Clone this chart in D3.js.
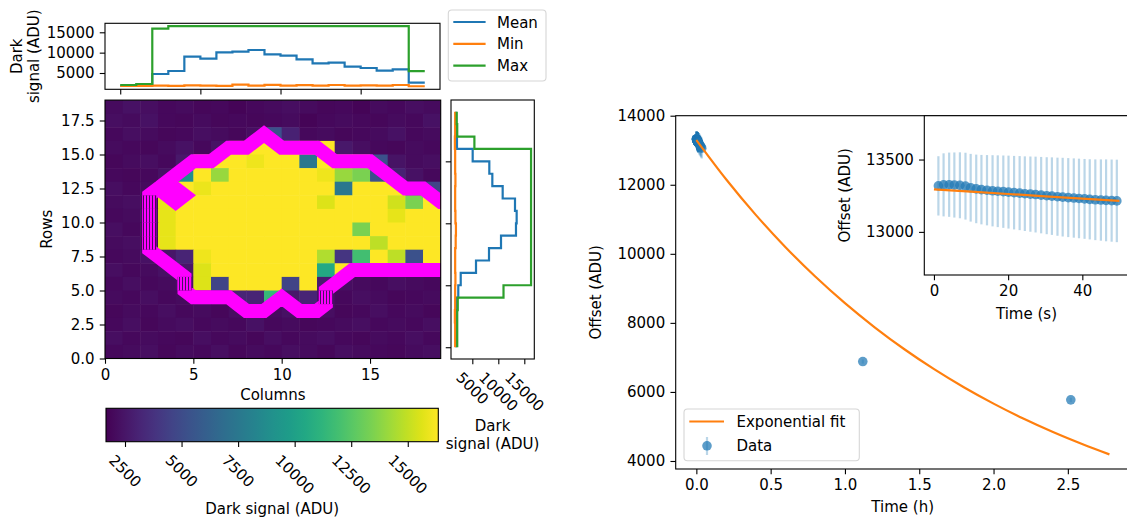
<!DOCTYPE html>
<html lang="en">
<head>
<meta charset="UTF-8">
<title>Dark signal map and offset drift</title>
<script src="https://d3js.org/d3.v7.min.js"></script>
<style>
  body { margin: 0; background: #fff; }
  svg { display: block; }
</style>
</head>
<body>
<svg id="chart" width="1127" height="520"></svg>
<script>
// ---------- data ----------
// dark signal per pixel, top row (18) first, columns 0..18
const heatmap = [
  [2100,2300,2200,2000,2100,1900,2000,1800,2000,2100,2200,2100,1900,2000,1800,2100,2000,2200,2100],
  [2200,2100,2300,2000,1900,2100,1900,2000,1900,2000,2100,1800,2000,2100,2000,1900,2100,2000,2300],
  [2000,2200,2100,1900,2000,2200,2100,1900,2200,5300,3000,2000,2100,1900,2000,2100,2300,2000,2100],
  [2100,2000,1900,2100,2300,2000,2400,16300,16300,16300,16300,16300,16300,2600,2200,2000,1900,2100,2000],
  [1900,2100,2200,2000,2600,16300,16300,16300,16000,16300,16300,7500,16300,16300,16300,5300,2400,2100,2200],
  [2000,1900,2000,2300,9000,16300,14100,16300,16300,16300,16300,16300,16000,14100,13400,5300,3000,2300,2000],
  [2200,2000,2100,2200,16300,15900,16300,16300,16300,16300,16300,16300,16300,7500,16300,16300,16300,3000,4600],
  [2100,2200,2000,15800,16300,16300,16300,16300,16300,16300,16300,16300,15600,16300,16300,16300,15300,13400,16300],
  [2000,2100,2200,15800,16300,16300,16300,16300,16300,16300,16300,16300,16300,16300,16300,16300,15800,16300,16300],
  [2200,2000,2100,15800,16300,16300,16300,16300,16300,16300,16300,16300,16300,16300,13400,16300,16300,16300,16300],
  [2100,2200,2000,15800,16300,16300,16300,16300,16300,16300,16300,16300,16300,16300,16300,14900,16300,16300,16300],
  [2000,2100,2300,2500,3100,16000,16300,16300,16300,16300,16300,16300,14600,3900,11900,16300,14900,5300,16300],
  [2200,2000,2100,2300,2500,15600,16300,16300,16300,16300,16300,16300,10500,16300,4000,2600,2400,2300,2200],
  [2000,2200,2000,2100,2300,15600,4600,16300,16300,16300,4600,16300,2800,2200,2100,2000,2200,2100,2000],
  [2100,2000,2200,2000,2100,2300,2200,3100,3100,11500,2600,3100,2300,2000,2200,2100,1900,2000,2100],
  [1900,2100,2000,2200,2000,2100,1900,2200,2000,2100,2300,2000,2200,1900,2000,2200,2000,2100,1900],
  [2000,2200,1900,2100,2200,2000,2100,2000,2300,2000,2100,1900,2000,2100,2200,2000,2100,2000,2200],
  [2200,2000,2100,2000,1900,2200,2000,2100,1900,2200,2000,2100,2200,2000,1900,2100,2000,2200,2000],
  [2000,2100,2200,1900,2100,2000,2200,1900,2100,2000,2200,2100,1900,2200,2100,2000,1900,2100,2200]
];
const nRows = 19;
const vmin = 1660, vmax = 16350;

// masked region (per column: lowest and highest row inside), runs past the shown area
const maskLo = [null, null, null, 8, 7, 5, 5, 5, 4, 4, 5, 4, 4, 6, 7, 7, 7, 7, 7, 7, 7];
const maskHi = [null, null, null, 12, 13, 14, 14, 15, 15, 16, 15, 15, 15, 14, 14, 14, 13, 12, 12, 11, 11];
const maskHoles = [[4, 12]];

// column profiles (top panel)
const colMean = [1900, 2000, 4750, 5490, 9020, 8530, 10080, 10250, 10650, 9590, 9260, 8360, 7380, 7540, 6560, 6230, 5570, 5900, 2620];
const colMin  = [1800, 1850, 1900, 1850, 1950, 1900, 1850, 2150, 1900, 2100, 1900, 2000, 1900, 2050, 1900, 1950, 1900, 2050, 1750];
const colMax  = [2050, 2300, 15900, 16500, 16500, 16500, 16500, 16500, 16500, 16500, 16500, 16500, 16500, 16500, 16500, 16500, 16500, 16500, 5450];

// row profiles (right panel), row 0 first
const rowMean = [1900, 1950, 1900, 2000, 2300, 2770, 5710, 8210, 10520, 13400, 13530, 13210, 10840, 8850, 8270, 5070, 2050, 1950, 1900];
const rowMin  = [1700, 1700, 1650, 1700, 1700, 1750, 1700, 1700, 1800, 1850, 1750, 1700, 1700, 1750, 1700, 1700, 1650, 1700, 1700];
const rowMax  = [2100, 2100, 2100, 2200, 11000, 16300, 16300, 16300, 16300, 16300, 16300, 16300, 16300, 16300, 16300, 16300, 5400, 2100, 2000];

const cbarTicks = [2500, 5000, 7500, 10000, 12500, 15000];

// offset vs time, first 50 s (inset)
const inSec = [1.2, 2.6, 4.1, 5.5, 7.0, 8.5, 9.9, 11.4, 12.8, 14.3, 15.8, 17.2, 18.7, 20.1, 21.6, 23.1, 24.5,
               26.0, 27.4, 28.9, 30.4, 31.8, 33.3, 34.7, 36.2, 37.7, 39.1, 40.6, 42.0, 43.5, 45.0, 46.4, 47.9, 49.3];
const inVal = [13318, 13325, 13326, 13324, 13322, 13316, 13305, 13297, 13292, 13288, 13284, 13281, 13278, 13275, 13271, 13268, 13264,
               13261, 13258, 13254, 13250, 13247, 13243, 13240, 13237, 13234, 13231, 13228, 13225, 13222, 13220, 13218, 13216, 13214];
const inErr = [205, 218, 222, 225, 228, 231, 234, 237, 240, 243, 246, 248, 250, 252, 254, 256, 258,
               260, 262, 264, 266, 268, 270, 272, 273, 274, 275, 276, 277, 279, 281, 283, 284, 285];
// later samples only in the main panel
const tailSec = [70, 85, 100, 115, 130];
const tailVal = [13180, 13150, 13120, 13090, 13060];
const tailErr = [300, 300, 300, 300, 300];
const lateHours = [1.12, 2.52];
const lateVal = [6880, 5770];
const lateErr = [60, 60];

// exponential fit as drawn
const fitHours = [0, 0.2, 0.4, 0.6, 0.8, 1.0, 1.2, 1.4, 1.6, 1.8, 2.0, 2.2, 2.4, 2.6, 2.78];
const fitVal = [13297, 12161, 11128, 10192, 9342, 8571, 7872, 7236, 6659, 6136, 5662, 5230, 4839, 4485, 4191];
const inFitSec = [0, 10, 20, 30, 40, 50];
const inFitVal = [13294, 13278, 13262, 13246, 13230, 13214];

// ---------- drawing ----------
const svg = d3.select("#chart")
  .attr("font-family", "DejaVu Sans, sans-serif")
  .attr("font-size", 15);
const FS = 15, SW = 1.1, TK = 5.25, PAD = 5.25;
const blue = "#1f77b4", orange = "#ff7f0e", green = "#2ca02c";
const defs = svg.append("defs");

function axis(gen, tx, ty) {
  const g = svg.append("g").attr("transform", `translate(${tx},${ty})`).call(gen)
    .attr("font-family", "DejaVu Sans, sans-serif").attr("font-size", FS);
  g.select(".domain").remove();
  g.selectAll(".tick line").attr("stroke", "#000").attr("stroke-width", SW);
  g.selectAll(".tick text").attr("fill", "#000");
  return g;
}
function frame(x0, y0, x1, y1) {
  svg.append("rect").attr("x", x0).attr("y", y0).attr("width", x1 - x0).attr("height", y1 - y0)
    .attr("fill", "none").attr("stroke", "#000").attr("stroke-width", SW);
}
function label(txt, x, y, rot) {
  const t = svg.append("text").text(txt).attr("text-anchor", "middle").attr("fill", "#000");
  if (rot) t.attr("transform", `translate(${x},${y}) rotate(${rot})`);
  else t.attr("x", x).attr("y", y);
  return t;
}
// tick labels turned 45 degrees, centred under the tick like matplotlib
function rotLabels(values, xf, ytop, fmt) {
  values.forEach(v => {
    const t = svg.append("text").text(fmt(v)).attr("text-anchor", "middle")
      .attr("dominant-baseline", "central").attr("fill", "#000");
    const w = t.node().getComputedTextLength();
    const half = (w + FS * 1.16) / Math.SQRT2 / 2;
    t.attr("transform", `translate(${xf(v)},${ytop + half}) rotate(45)`);
  });
}
function legendBox(x0, y0, x1, y1) {
  svg.append("rect").attr("x", x0).attr("y", y0).attr("width", x1 - x0).attr("height", y1 - y0)
    .attr("rx", 3.5).attr("fill", "#fff").attr("fill-opacity", 0.8)
    .attr("stroke", "#d6d6d6").attr("stroke-width", 1.1);
}

// ----- heatmap -----
const hx = d3.scaleLinear().domain([0, 19]).range([105, 440.7]);
const hy = d3.scaleLinear().domain([0, 19]).range([358.5, 100.1]);
const viridis = d3.scaleSequential(d3.interpolateViridis).domain([vmin, vmax]);

defs.append("clipPath").attr("id", "heatClip").append("rect")
  .attr("x", hx(0)).attr("y", hy(19)).attr("width", hx(19) - hx(0)).attr("height", hy(0) - hy(19));

const cells = heatmap.flatMap((row, i) => row.map((v, c) => ({ c: c, r: nRows - 1 - i, v: v })));
svg.append("g").attr("clip-path", "url(#heatClip)")
  .selectAll("rect").data(cells).join("rect")
  .attr("x", d => hx(d.c)).attr("y", d => hy(d.r + 1))
  .attr("width", hx(1) - hx(0) + 0.5).attr("height", hy(0) - hy(1) + 0.5)
  .attr("fill", d => viridis(d.v));

// mask outline: contour of the mask on pixel indices
const mW = maskLo.length;
const maskVals = new Array(mW * nRows).fill(0);
maskLo.forEach((lo, c) => {
  if (lo == null) return;
  for (let r = lo; r <= maskHi[c]; r++) maskVals[c + r * mW] = 1;
});
maskHoles.forEach(([c, r]) => { maskVals[c + r * mW] = 0; });
const ring = d3.contours().size([mW, nRows]).thresholds([0.5])(maskVals)[0];
const proj = d3.geoTransform({ point(x, y) { this.stream.point(hx(x - 0.5), hy(y - 0.5)); } });

// vertical runs of the outline come out striped in the original, so they get a hatch
const vSegs = [];
ring.coordinates.forEach(poly => poly.forEach(r => {
  for (let i = 1; i < r.length; i++) {
    const [x0, y0] = r[i - 1], [x1, y1] = r[i];
    if (Math.abs(x0 - x1) < 1e-9 && Math.abs(y0 - y1) > 1e-9)
      vSegs.push({ x: x0 - 0.5, lo: Math.min(y0, y1) - 0.5, hi: Math.max(y0, y1) - 0.5 });
  }
}));
const LW = 14;
const hatch = defs.append("pattern").attr("id", "hatch").attr("patternUnits", "userSpaceOnUse")
  .attr("width", 3).attr("height", 10);
hatch.append("rect").attr("width", 2).attr("height", 10).attr("fill", "#ff00ff");
const solidMask = defs.append("mask").attr("id", "solidMask").attr("maskUnits", "userSpaceOnUse")
  .attr("x", 0).attr("y", 0).attr("width", 1127).attr("height", 520);
solidMask.append("rect").attr("width", 1127).attr("height", 520).attr("fill", "#fff");
solidMask.selectAll("rect.v").data(vSegs).join("rect").attr("class", "v")
  .attr("x", d => hx(d.x) - LW / 2).attr("width", LW)
  .attr("y", d => hy(d.hi)).attr("height", d => hy(d.lo) - hy(d.hi)).attr("fill", "#000");

const outline = svg.append("g").attr("clip-path", "url(#heatClip)");
outline.append("path").attr("mask", "url(#solidMask)")
  .attr("d", d3.geoPath(proj)(ring))
  .attr("fill", "none").attr("stroke", "#ff00ff").attr("stroke-width", LW);
outline.selectAll("rect").data(vSegs).join("rect")
  .attr("x", d => hx(d.x) - LW / 2).attr("width", LW)
  .attr("y", d => hy(d.hi)).attr("height", d => hy(d.lo) - hy(d.hi)).attr("fill", "url(#hatch)");

frame(hx(0), hy(19), hx(19), hy(0));
axis(d3.axisBottom(hx).tickValues([0, 5, 10, 15]).tickSize(TK).tickPadding(PAD), 0, hy(0));
axis(d3.axisLeft(hy).tickValues([0, 2.5, 5, 7.5, 10, 12.5, 15, 17.5]).tickFormat(d3.format(".1f"))
  .tickSize(TK).tickPadding(PAD), hx(0), 0);
label("Columns", (hx(0) + hx(19)) / 2, 400);
label("Rows", 52, (hy(0) + hy(19)) / 2, -90);

// ----- top panel: column profiles -----
const tx = d3.scaleLinear().domain([-0.95, 19.95]).range([105, 440]);
const ty = d3.scaleLinear().domain([995, 17210]).range([89.3, 23.3]);
const colLine = d3.line().x(d => tx(d[0])).y(d => ty(d[1])).curve(d3.curveStepAfter);
[[colMean, blue], [colMin, orange], [colMax, green]].forEach(([arr, col]) => {
  const pts = arr.map((v, k) => [k, v]).concat([[arr.length, arr[arr.length - 1]]]);
  svg.append("path").attr("d", colLine(pts)).attr("fill", "none")
    .attr("stroke", col).attr("stroke-width", 2.2);
});
frame(105, 23.3, 440, 89.3);
axis(d3.axisBottom(tx).tickValues([0, 5, 10, 15]).tickFormat("").tickSize(TK), 0, 89.3);
axis(d3.axisLeft(ty).tickValues([5000, 10000, 15000]).tickFormat(d3.format("d"))
  .tickSize(TK).tickPadding(PAD), 105, 0);
label("Dark", 22, 56.3, -90);
label("signal (ADU)", 39, 56.3, -90);

legendBox(448.3, 10, 546, 81);
[["Mean", blue, 22], ["Min", orange, 43.8], ["Max", green, 65.6]].forEach(([name, col, y]) => {
  svg.append("line").attr("x1", 453.3).attr("x2", 485.6).attr("y1", y).attr("y2", y)
    .attr("stroke", col).attr("stroke-width", 2.2);
  svg.append("text").attr("x", 497).attr("y", y + 5.5).text(name).attr("fill", "#000");
});

// ----- right panel: row profiles -----
const rx = d3.scaleLinear().domain([900, 16923]).range([451, 534.3]);
const ry = d3.scaleLinear().domain([-0.95, 19.95]).range([359, 100]);
const rowLine = d3.line().x(d => rx(d[0])).y(d => ry(d[1]));
[[rowMean, blue], [rowMin, orange], [rowMax, green]].forEach(([arr, col]) => {
  const pts = arr.flatMap((v, k) => [[v, k], [v, k + 1]]);
  svg.append("path").attr("d", rowLine(pts)).attr("fill", "none")
    .attr("stroke", col).attr("stroke-width", 2.2);
});
frame(451, 100, 534.3, 359);
axis(d3.axisLeft(ry).tickValues([0, 5, 10, 15]).tickFormat("").tickSize(TK), 451, 0);
axis(d3.axisBottom(rx).tickValues([5000, 10000, 15000]).tickFormat("").tickSize(TK), 0, 359);
rotLabels([5000, 10000, 15000], rx, 359 + TK + 4.5, d3.format("d"));
label("Dark", 492.6, 431);
label("signal (ADU)", 492.6, 448.5);

// ----- colour bar -----
const cx = d3.scaleLinear().domain([vmin, vmax]).range([106, 438.3]);
const grad = defs.append("linearGradient").attr("id", "viridisGrad");
d3.range(0, 1.0001, 0.05).forEach(t => {
  grad.append("stop").attr("offset", t).attr("stop-color", d3.interpolateViridis(t));
});
svg.append("rect").attr("x", 106).attr("y", 408.3).attr("width", 438.3 - 106).attr("height", 441.7 - 408.3)
  .attr("fill", "url(#viridisGrad)");
frame(106, 408.3, 438.3, 441.7);
axis(d3.axisBottom(cx).tickValues(cbarTicks).tickFormat("").tickSize(TK), 0, 441.7);
rotLabels(cbarTicks, cx, 441.7 + TK + 4.5, d3.format("d"));
label("Dark signal (ADU)", 272.2, 514);

// ----- main offset panel -----
const mx = d3.scaleLinear().domain([-0.139, 2.917]).range([675.7, 1129.8]);
const my = d3.scaleLinear().domain([3768, 14000]).range([469, 115.7]);

const mainPts = inSec.map((s, i) => ({ t: s / 3600, v: inVal[i], e: inErr[i] }))
  .concat(tailSec.map((s, i) => ({ t: s / 3600, v: tailVal[i], e: tailErr[i] })))
  .concat(lateHours.map((h, i) => ({ t: h, v: lateVal[i], e: lateErr[i] })));

const mg = svg.append("g");
mg.selectAll("line.err").data(mainPts).join("line")
  .attr("x1", d => mx(d.t)).attr("x2", d => mx(d.t))
  .attr("y1", d => my(d.v - d.e)).attr("y2", d => my(d.v + d.e))
  .attr("stroke", blue).attr("stroke-opacity", 0.3).attr("stroke-width", 2.2);
mg.selectAll("circle").data(mainPts).join("circle")
  .attr("cx", d => mx(d.t)).attr("cy", d => my(d.v)).attr("r", 4.8)
  .attr("fill", blue).attr("fill-opacity", 0.72);
mg.append("path")
  .attr("d", d3.line().x((d, i) => mx(fitHours[i])).y(d => my(d)).curve(d3.curveMonotoneX)(fitVal))
  .attr("fill", "none").attr("stroke", orange).attr("stroke-width", 2.2);

frame(675.7, 115.7, 1129.8, 469);
axis(d3.axisBottom(mx).tickValues([0, 0.5, 1, 1.5, 2, 2.5]).tickFormat(d3.format(".1f"))
  .tickSize(TK).tickPadding(PAD), 0, 469);
axis(d3.axisLeft(my).tickValues([4000, 6000, 8000, 10000, 12000, 14000]).tickFormat(d3.format("d"))
  .tickSize(TK).tickPadding(PAD), 675.7, 0);
label("Time (h)", 902.7, 512);
label("Offset (ADU)", 601, 292.3, -90);

legendBox(684, 409, 859.3, 460.7);
svg.append("line").attr("x1", 689.3).attr("x2", 724).attr("y1", 421.5).attr("y2", 421.5)
  .attr("stroke", orange).attr("stroke-width", 2.2);
svg.append("text").attr("x", 736.5).attr("y", 427).text("Exponential fit").attr("fill", "#000");
svg.append("line").attr("x1", 707).attr("x2", 707).attr("y1", 437).attr("y2", 455)
  .attr("stroke", blue).attr("stroke-opacity", 0.3).attr("stroke-width", 2.2);
svg.append("circle").attr("cx", 707).attr("cy", 445.8).attr("r", 4.8)
  .attr("fill", blue).attr("fill-opacity", 0.72);
svg.append("text").attr("x", 736.5).attr("y", 451.3).text("Data").attr("fill", "#000");

// ----- inset: first 50 s -----
const ix = d3.scaleLinear().domain([-2.6, 52.5]).range([924.3, 1128.7]);
const iy = d3.scaleLinear().domain([12702, 13803]).range([275, 115.7]);
svg.append("rect").attr("x", 924.3).attr("y", 115.7).attr("width", 1128.7 - 924.3).attr("height", 275 - 115.7)
  .attr("fill", "#fff");
const ig = svg.append("g");
const inPts = inSec.map((s, i) => ({ t: s, v: inVal[i], e: inErr[i] }));
ig.selectAll("line").data(inPts).join("line")
  .attr("x1", d => ix(d.t)).attr("x2", d => ix(d.t))
  .attr("y1", d => iy(d.v - d.e)).attr("y2", d => iy(d.v + d.e))
  .attr("stroke", blue).attr("stroke-opacity", 0.3).attr("stroke-width", 2.2);
ig.selectAll("circle").data(inPts).join("circle")
  .attr("cx", d => ix(d.t)).attr("cy", d => iy(d.v)).attr("r", 4.8)
  .attr("fill", blue).attr("fill-opacity", 0.72);
ig.append("path")
  .attr("d", d3.line().x((d, i) => ix(inFitSec[i])).y(d => iy(d))(inFitVal))
  .attr("fill", "none").attr("stroke", orange).attr("stroke-width", 2.2);
frame(924.3, 115.7, 1128.7, 275);
axis(d3.axisBottom(ix).tickValues([0, 20, 40]).tickSize(TK).tickPadding(PAD), 0, 275);
axis(d3.axisLeft(iy).tickValues([13000, 13500]).tickFormat(d3.format("d"))
  .tickSize(TK).tickPadding(PAD), 924.3, 0);
label("Time (s)", 1026.5, 319);
label("Offset (ADU)", 850, 195.3, -90);
</script>
</body>
</html>
